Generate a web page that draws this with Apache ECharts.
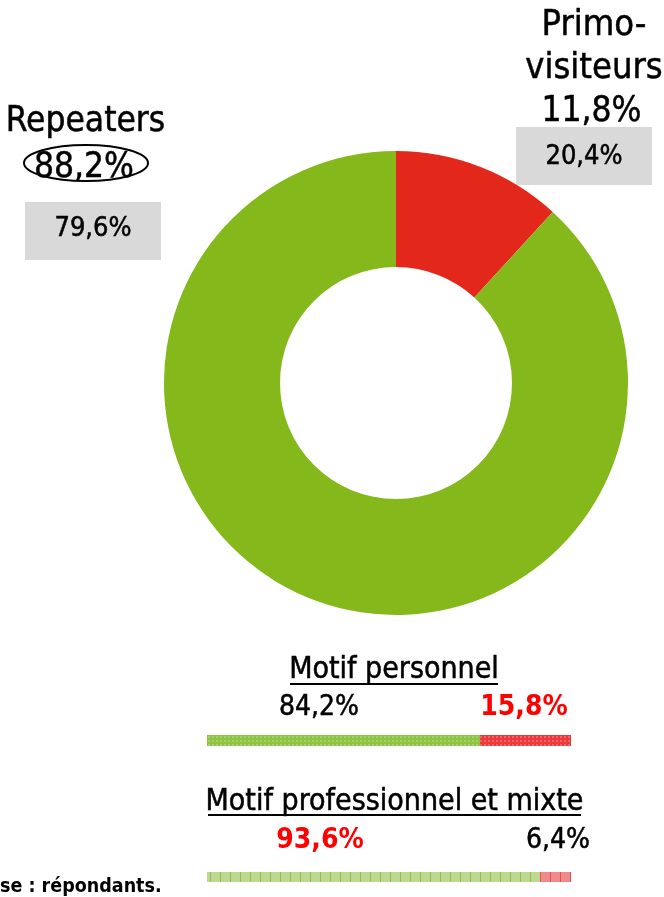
<!DOCTYPE html>
<html><head><meta charset="utf-8">
<script src="https://cdn.jsdelivr.net/npm/echarts@6/dist/echarts.min.js"></script>
<style>html,body{margin:0;padding:0;background:#fff}#c{width:664px;height:897px}</style>
</head><body><div id="c"></div>
<script>
// Donut data
const donutNames = ['Primo-visiteurs', 'Repeaters'];
const donutValues = [11.8, 88.2];
const donutLabels = ['11,8%', '88,2%'];
const boxLabels = ['20,4%', '79,6%'];
// Motif bars (segment lengths as drawn in the picture)
const motifTitles = ['Motif personnel', 'Motif professionnel et mixte'];
const motifGreenLabels = ['84,2%', '93,6%'];
const motifRedLabels = ['15,8%', '6,4%'];
const barGreen = [75, 91.5];
const barRed = [25, 8.5];
const footnote = 'se : répondants.';

const FONT = '"DejaVu Sans Condensed", "DejaVu Sans", sans-serif';
const chart = echarts.init(document.getElementById('c'));

function txt(text, x, y, size, opts) {
  opts = opts || {};
  const fill = opts.fill || '#000';
  const st = {text:text, x:x, y:y, align:opts.align||'center', verticalAlign:'middle',
    font:(opts.weight||'normal')+' '+size+'px '+FONT, fill:fill};
  if (!opts.weight) { st.stroke = fill; st.lineWidth = 0.5; }
  return {type:'text', style:st};
}

const graphics = [
  {type:'rect', shape:{x:25,y:202,width:136,height:58}, style:{fill:'#d9d9d9'}},
  {type:'rect', shape:{x:516,y:127,width:136,height:58}, style:{fill:'#d9d9d9'}},
  txt(donutNames[1], 85.5, 122, 35),
  txt(donutLabels[1], 84, 168, 35),
  {type:'ellipse', shape:{cx:86,cy:163,rx:62,ry:18}, style:{fill:'none',stroke:'#000',lineWidth:2}},
  txt(boxLabels[1], 93, 229, 27),
  txt('Primo-', 594, 26, 36),
  txt('visiteurs', 594, 69, 36),
  txt(donutLabels[0], 591.5, 112, 35),
  txt(boxLabels[0], 584, 157, 27),
  txt(motifTitles[0], 394, 670, 30),
  {type:'line', shape:{x1:290,y1:684,x2:498,y2:684}, style:{stroke:'#000',lineWidth:2}},
  txt(motifGreenLabels[0], 319, 708, 28),
  txt(motifRedLabels[0], 524, 708, 28, {weight:'bold', fill:'#ff0000'}),
  txt(motifTitles[1], 394.5, 802, 30),
  {type:'line', shape:{x1:208,y1:815,x2:581,y2:815}, style:{stroke:'#000',lineWidth:2}},
  txt(motifGreenLabels[1], 320, 841, 28, {weight:'bold', fill:'#ff0000'}),
  txt(motifRedLabels[1], 558, 841, 28),
  txt(footnote, 0, 887, 19.5, {align:'left', weight:'bold'})
];

const decal1 = {symbol:'rect', symbolSize:1, color:'rgba(255,255,255,0.22)', dashArrayX:[[2,2]], dashArrayY:[2,2], rotation:0};
const decal2 = {symbol:'rect', symbolSize:1, color:'rgba(120,170,40,0.6)', dashArrayX:[[1,9]], dashArrayY:[20,0], rotation:0};
const decal2r = {symbol:'rect', symbolSize:1, color:'rgba(220,40,40,0.6)', dashArrayX:[[1,9]], dashArrayY:[20,0], rotation:0};

chart.setOption({
  animation:false,
  grid:[
    {left:207, width:364, top:735, height:11},
    {left:207, width:364, top:872, height:10}
  ],
  xAxis:[
    {gridIndex:0, type:'value', min:0, max:100, show:false},
    {gridIndex:1, type:'value', min:0, max:100, show:false}
  ],
  yAxis:[
    {gridIndex:0, type:'category', data:[motifTitles[0]], show:false},
    {gridIndex:1, type:'category', data:[motifTitles[1]], show:false}
  ],
  series:[
    {type:'pie', center:[396,383], radius:[116,232], startAngle:90, clockwise:true,
     label:{show:false}, labelLine:{show:false}, silent:true,
     data:[
       {name:donutNames[0], value:donutValues[0], itemStyle:{color:'#e3281b'}},
       {name:donutNames[1], value:donutValues[1], itemStyle:{color:'#84b81b'}}
     ]},
    {type:'bar', xAxisIndex:0, yAxisIndex:0, stack:'a', barWidth:11, data:[barGreen[0]],
     itemStyle:{color:'#8fc443', decal:decal1}},
    {type:'bar', xAxisIndex:0, yAxisIndex:0, stack:'a', barWidth:11, data:[barRed[0]],
     itemStyle:{color:'#ec3a3a', decal:decal1}},
    {type:'bar', xAxisIndex:1, yAxisIndex:1, stack:'b', barWidth:10, data:[barGreen[1]],
     itemStyle:{color:'#bcd98f', decal:decal2}},
    {type:'bar', xAxisIndex:1, yAxisIndex:1, stack:'b', barWidth:10, data:[barRed[1]],
     itemStyle:{color:'#f08a8a', decal:decal2r}}
  ],
  graphic:graphics
});
</script></body></html>
